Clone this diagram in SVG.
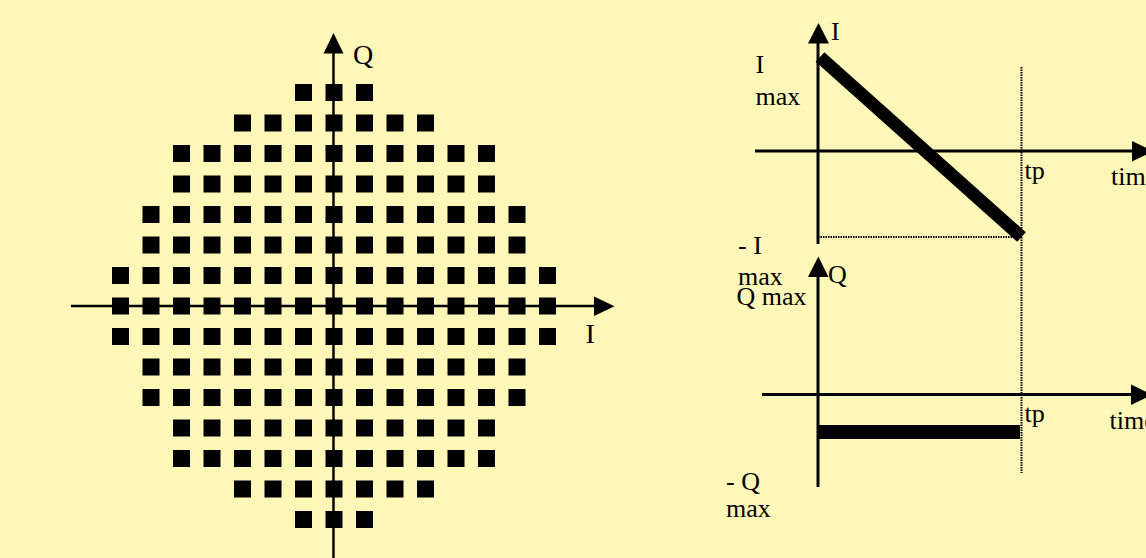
<svg xmlns="http://www.w3.org/2000/svg" xmlns:xlink="http://www.w3.org/1999/xlink" width="1146" height="558" viewBox="0 0 1146 558">
<style>
.ax{stroke:#000;stroke-width:2.5;fill:none}
.ax3{stroke:#000;stroke-width:3;fill:none}
.dot{stroke:#000;stroke-width:2;stroke-dasharray:1.5 1;fill:none}
.ah{fill:#000}
.sq{fill:#000}
.t{font-family:"Liberation Serif","Times New Roman",serif;fill:#000}
.l28{font-size:28px}
.l26{font-size:26px}
</style>
<defs>
<rect id="sq" class="sq" width="17" height="17"/>
<g id="r3"><use href="#sq" x="295"/><use href="#sq" x="325.5"/><use href="#sq" x="356"/></g>
<g id="r7"><use href="#sq" x="234"/><use href="#sq" x="264.5"/><use href="#r3"/><use href="#sq" x="386.5"/><use href="#sq" x="417"/></g>
<g id="r11"><use href="#sq" x="173"/><use href="#sq" x="203.5"/><use href="#r7"/><use href="#sq" x="447.5"/><use href="#sq" x="478"/></g>
<g id="r13"><use href="#sq" x="142.5"/><use href="#r11"/><use href="#sq" x="508.5"/></g>
<g id="r15"><use href="#sq" x="112"/><use href="#r13"/><use href="#sq" x="539"/></g>
</defs>
<rect width="1146" height="558" fill="#FFF7B8"/>

<g id="constellation">
<use id="row0" href="#r3" y="84"/>
<use id="row1" href="#r7" y="114.5"/>
<use id="row2" href="#r11" y="145"/>
<use id="row3" href="#r11" y="175.5"/>
<use id="row4" href="#r13" y="206"/>
<use id="row5" href="#r13" y="236.5"/>
<use id="row6" href="#r15" y="267"/>
<use id="row7" href="#r15" y="297.5"/>
<use id="row8" href="#r15" y="328"/>
<use id="row9" href="#r13" y="358.5"/>
<use id="row10" href="#r13" y="389"/>
<use id="row11" href="#r11" y="419.5"/>
<use id="row12" href="#r11" y="450"/>
<use id="row13" href="#r7" y="480.5"/>
<use id="row14" href="#r3" y="511"/>
</g>

<g id="connectors">
<!-- left IQ axes -->
<line class="ax" x1="333.5" y1="558" x2="333.5" y2="52"/>
<polygon class="ah" points="323.5,53.5 343.5,53.5 333.5,33"/>
<line class="ax" x1="71" y1="306" x2="595" y2="306"/>
<polygon class="ah" points="594,296.5 594,316 614.5,306.2"/>

<!-- top right chart -->
<line class="ax3" x1="818" y1="244" x2="818" y2="42"/>
<polygon class="ah" points="808,43.5 829,43.5 818.5,23"/>
<line class="ax3" x1="755" y1="151" x2="1133" y2="151"/>
<polygon class="ah" points="1132,141 1132,161.5 1153,151.2"/>
<line class="dot" x1="1021.5" y1="67" x2="1021.5" y2="473"/>
<line class="dot" x1="818" y1="237" x2="1021.5" y2="237"/>
<line stroke="#000" stroke-width="13" x1="820" y1="57" x2="1021.5" y2="237"/>

<!-- bottom right chart -->
<line class="ax3" x1="818" y1="487" x2="818" y2="275"/>
<polygon class="ah" points="808,277 828.5,277 818.3,256.5"/>
<line class="ax3" x1="762" y1="394.5" x2="1133" y2="394.5"/>
<polygon class="ah" points="1131,384.5 1131,405 1152,394.7"/>
<rect x="818" y="425" width="202" height="14" fill="#000"/>
</g>

<g id="labels" class="t">
<text id="lbl-Q" class="l28" x="353" y="64">Q</text>
<text id="lbl-I" class="l28" x="585.5" y="343" font-size="30">I</text>

<text id="lbl-I-top" class="l26" x="831" y="40">I</text>
<text id="lbl-Imax" class="l26" x="755.5" y="73">I</text>
<text id="lbl-Imax2" class="l26" x="755.5" y="105">max</text>
<text id="lbl-tp1" class="l26" x="1024.5" y="178.5">tp</text>
<text id="lbl-time1" class="l26" x="1111" y="185">time</text>
<text id="lbl-mImax" class="l26" x="738" y="253.5">- I</text>
<text id="lbl-mImax2" class="l26" x="738" y="284.5">max</text>

<text id="lbl-Q-top" class="l26" x="828" y="282.5">Q</text>
<text id="lbl-Qmax" class="l26" x="736.5" y="305">Q max</text>
<text id="lbl-tp2" class="l26" x="1024.5" y="421.5">tp</text>
<text id="lbl-time2" class="l26" x="1109.5" y="428.5">time</text>
<text id="lbl-mQmax" class="l26" x="726" y="490">- Q</text>
<text id="lbl-mQmax2" class="l26" x="726" y="516.5">max</text>
</g>
</svg>
